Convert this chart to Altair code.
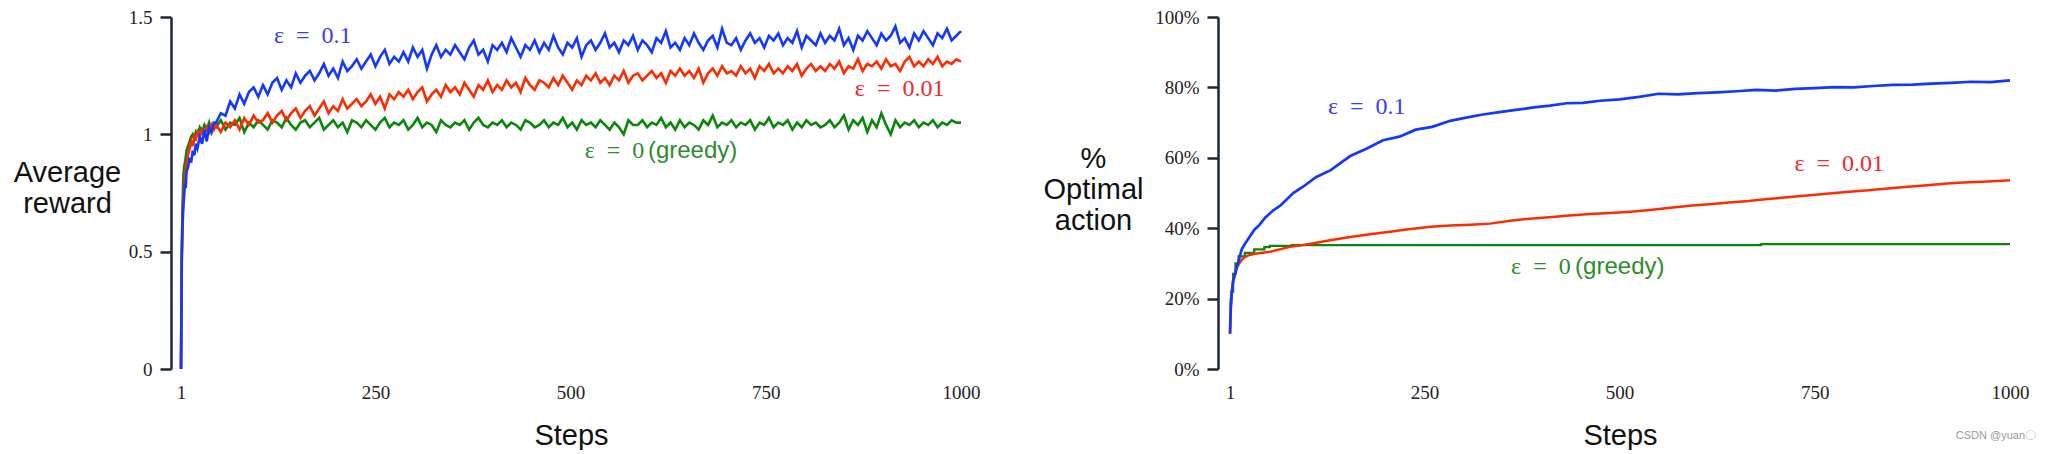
import altair as alt
import pandas as pd

SERIF = "Liberation Serif"
SANS = "Liberation Sans"
BLUE = "#1437ff"
RED = "#ff2a00"
GREEN = "#0a870a"
AXIS = "#1e2838"

# ---------------- Left panel: average reward ----------------
reward_steps = [1, 2, 3, 4, 5, 6, 7, 8, 10, 12, 14, 16, 18, 20, 22, 25, 28, 31, 34, 37, 40, 43] + list(range(46, 1001, 6))

reward_eps01 = [
    0.00, 0.46, 0.62, 0.69, 0.74, 0.79, 0.77, 0.84, 0.86, 0.90, 0.88, 0.93, 0.91, 0.96, 0.94, 0.99, 0.96, 1.02, 0.97, 1.03, 1.01, 1.05,
    1.05, 1.09, 1.08, 1.14, 1.11, 1.17, 1.13, 1.18, 1.20, 1.16,
    1.21, 1.17, 1.22, 1.24, 1.19, 1.23, 1.20, 1.26, 1.22, 1.25,
    1.27, 1.23, 1.26, 1.30, 1.25, 1.28, 1.24, 1.31, 1.27, 1.29,
    1.32, 1.28, 1.31, 1.34, 1.29, 1.33, 1.36, 1.30, 1.33, 1.31,
    1.35, 1.31, 1.37, 1.33, 1.36, 1.28, 1.34, 1.38, 1.33, 1.36,
    1.34, 1.38, 1.35, 1.32, 1.37, 1.40, 1.34, 1.36, 1.31, 1.38,
    1.36, 1.39, 1.35, 1.41, 1.37, 1.33, 1.38, 1.36, 1.40, 1.35,
    1.39, 1.36, 1.42, 1.37, 1.34, 1.39, 1.37, 1.41, 1.33, 1.38,
    1.40, 1.36, 1.39, 1.43, 1.37, 1.39, 1.35, 1.40, 1.38, 1.42,
    1.36, 1.40, 1.38, 1.35, 1.41, 1.39, 1.44, 1.37, 1.39, 1.36,
    1.41, 1.38, 1.43, 1.39, 1.36, 1.40, 1.42, 1.37, 1.45, 1.39,
    1.38, 1.41, 1.36, 1.40, 1.43, 1.39, 1.41, 1.37, 1.42, 1.40,
    1.43, 1.38, 1.41, 1.39, 1.44, 1.37, 1.42, 1.40, 1.38, 1.43,
    1.39, 1.42, 1.40, 1.45, 1.38, 1.41, 1.36, 1.42, 1.40, 1.44,
    1.41, 1.38, 1.43, 1.40, 1.42, 1.46, 1.39, 1.41, 1.37, 1.43,
    1.40, 1.44, 1.41, 1.38, 1.43, 1.41, 1.45, 1.40, 1.42, 1.44,
]

reward_eps001 = [
    0.00, 0.48, 0.66, 0.72, 0.78, 0.82, 0.85, 0.88, 0.91, 0.94, 0.97, 0.95, 0.99, 0.98, 1.01, 0.99, 1.02, 1.00, 1.03, 1.01, 1.04, 1.02,
    1.04, 1.01, 1.05, 1.03, 1.06, 1.02, 1.07, 1.04, 1.08, 1.05,
    1.06, 1.09, 1.05, 1.08, 1.10, 1.06, 1.09, 1.11, 1.07, 1.10,
    1.12, 1.08, 1.11, 1.14, 1.09, 1.12, 1.10, 1.15, 1.11, 1.13,
    1.15, 1.12, 1.14, 1.17, 1.13, 1.16, 1.11, 1.17, 1.15, 1.18,
    1.16, 1.19, 1.15, 1.18, 1.20, 1.14, 1.17, 1.19, 1.16, 1.21,
    1.18, 1.20, 1.17, 1.22, 1.19, 1.16, 1.21, 1.19, 1.23, 1.18,
    1.21, 1.19, 1.23, 1.20, 1.22, 1.18, 1.24, 1.21, 1.19, 1.23,
    1.22, 1.20, 1.24, 1.21, 1.25, 1.22, 1.19, 1.23, 1.21, 1.25,
    1.23, 1.26, 1.22, 1.24, 1.21, 1.25, 1.23, 1.27, 1.22, 1.25,
    1.26, 1.23, 1.25, 1.27, 1.24, 1.26, 1.22, 1.27, 1.25, 1.28,
    1.25, 1.27, 1.24, 1.28, 1.22, 1.26, 1.28, 1.25, 1.29, 1.26,
    1.27, 1.25, 1.29, 1.26, 1.28, 1.24, 1.29, 1.27, 1.30, 1.26,
    1.28, 1.26, 1.29, 1.27, 1.30, 1.25, 1.28, 1.30, 1.27, 1.29,
    1.27, 1.30, 1.28, 1.31, 1.26, 1.29, 1.28, 1.32, 1.27, 1.30,
    1.29, 1.31, 1.28, 1.32, 1.29, 1.30, 1.27, 1.31, 1.33, 1.29,
    1.31, 1.29, 1.32, 1.30, 1.33, 1.29, 1.31, 1.30, 1.32, 1.31,
]

reward_eps0 = [
    0.00, 0.50, 0.70, 0.82, 0.86, 0.88, 0.90, 0.93, 0.95, 0.97, 0.99, 1.00, 0.98, 1.01, 1.00, 1.03, 1.01, 1.04, 1.02, 1.05, 1.01, 1.04,
    1.03, 1.06, 1.02, 1.05, 1.04, 1.07, 1.01, 1.05, 1.03, 1.06,
    1.04, 1.02, 1.06, 1.05, 1.03, 1.07, 1.04, 1.02, 1.05, 1.06,
    1.03, 1.05, 1.07, 1.02, 1.04, 1.06, 1.03, 1.05, 1.01, 1.06,
    1.05, 1.03, 1.06, 1.04, 1.02, 1.05, 1.07, 1.03, 1.05, 1.04,
    1.06, 1.02, 1.04, 1.07, 1.03, 1.05, 1.04, 1.01, 1.06, 1.04,
    1.03, 1.05, 1.04, 1.06, 1.02, 1.05, 1.07, 1.04, 1.03, 1.05,
    1.04, 1.06, 1.03, 1.05, 1.04, 1.02, 1.06, 1.05, 1.03, 1.04,
    1.06, 1.03, 1.05, 1.04, 1.07, 1.03, 1.05, 1.02, 1.06, 1.04,
    1.05, 1.03, 1.06, 1.04, 1.02, 1.05, 1.03, 1.00, 1.06, 1.04,
    1.04, 1.06, 1.03, 1.05, 1.04, 1.07, 1.03, 1.05, 1.02, 1.06,
    1.03, 1.05, 1.04, 1.02, 1.06, 1.04, 1.08, 1.03, 1.05, 1.04,
    1.06, 1.03, 1.05, 1.04, 1.06, 1.02, 1.05, 1.04, 1.07, 1.03,
    1.05, 1.04, 1.06, 1.02, 1.05, 1.03, 1.06, 1.04, 1.05, 1.03,
    1.04, 1.06, 1.03, 1.05, 1.08, 1.02, 1.06, 1.04, 1.07, 1.01,
    1.06, 1.03, 1.09, 1.04, 1.00, 1.06, 1.03, 1.05, 1.04, 1.06,
    1.03, 1.05, 1.04, 1.06, 1.03, 1.05, 1.04, 1.06, 1.05, 1.05,
]

# ---------------- Right panel: % optimal action ----------------
opt_steps_eps01 = [1, 2, 3, 5, 7, 10, 13, 16, 20, 26, 32, 39, 46, 56, 66, 82, 96, 111, 130, 155, 175, 197, 218, 239,
                   260, 283, 305, 325, 346, 367, 390, 411, 432, 453, 475, 500, 525, 550, 575, 600, 625, 650, 675,
                   700, 725, 750, 775, 800, 825, 850, 875, 900, 925, 950, 975, 1000]
opt_eps01 = [10, 17.5, 21, 25, 26.5, 29, 31.5, 34, 35.5, 37.5, 39.5, 41, 43, 45, 46.5, 50, 52, 54.5, 56.5, 60.5, 62.5,
             65, 66, 68, 68.8, 70.5, 71.5, 72.3, 73, 73.6, 74.3, 74.8, 75.5, 75.6, 76.2, 76.6, 77.3, 78.2, 78.0, 78.4,
             78.6, 78.9, 79.3, 79.1, 79.6, 79.8, 80.1, 80.0, 80.4, 80.7, 80.8, 81.1, 81.3, 81.6, 81.5, 82.0]

opt_steps_eps001 = [1, 2, 3, 5, 7, 10, 13, 16, 20, 26, 35, 52, 78, 103, 129, 155, 180, 206, 232, 258, 283, 309, 334,
                    360, 385, 410, 436, 462, 488, 514, 539, 565, 590, 615, 640, 665, 690, 715, 740, 765, 790, 815,
                    840, 865, 890, 915, 940, 965, 990, 1000]
opt_eps001 = [10, 17, 21, 25, 27, 29, 30, 31, 31.8, 32.4, 32.8, 33.3, 34.7, 35.5, 36.6, 37.5, 38.3, 39.0, 39.8, 40.4,
              40.8, 41.0, 41.3, 42.1, 42.7, 43.1, 43.6, 44.0, 44.3, 44.7, 45.2, 45.8, 46.4, 46.8, 47.3, 47.7, 48.3,
              48.8, 49.3, 49.8, 50.3, 50.7, 51.2, 51.7, 52.1, 52.6, 53.0, 53.2, 53.5, 53.6]

opt_steps_eps0 = [1, 2, 3, 5, 8, 12, 20, 32, 45, 52, 80, 680, 681, 1000]
opt_eps0 = [17, 20, 22, 27, 30, 32, 33, 34, 34.6, 35, 35.2, 35.2, 35.5, 35.5]

# ---------------- Annotations ----------------
left_labels = ["ε\u2002=\u20020.1", "ε\u2002=\u20020.01", "ε\u2002=\u20020"]
left_label_steps = [120, 864, 518]
left_label_values = [1.419, 1.192, 0.927]
left_label_colors = ["#3b3bf5", "#f0282d", "#2e8b2e"]
left_greedy_step, left_greedy_value = 599, 0.927

right_labels = ["ε\u2002=\u20020.1", "ε\u2002=\u20020.01", "ε\u2002=\u20020"]
right_label_steps = [126.5, 724, 361]
right_label_values = [74.4, 58.2, 29.0]
right_label_colors = ["#3b3bf5", "#f0282d", "#2e8b2e"]
right_greedy_step, right_greedy_value = 443, 29.0

x_ticks = [1, 250, 500, 750, 1000]

watermark_text = ["CSDN @yuan〇"]
watermark_step = [982]
watermark_value = [-19]


def x_enc():
    return alt.X(
        "step:Q",
        scale=alt.Scale(domain=[1, 1000], nice=False, zero=False),
        axis=alt.Axis(
            values=x_ticks, labelExpr="datum.value + ''", title="Steps", domain=False, ticks=False, grid=False,
            labelFont=SERIF, labelFontSize=19, labelColor="#222", labelBaseline="middle",
            labelPadding=23, labelFlush=False,
            titleFont=SANS, titleFontSize=29, titleFontWeight="normal", titleColor="#111",
            titleBaseline="alphabetic", titleY=75,
        ),
    )


def y_enc(domain, values, label_expr, title, title_x, title_y, offset):
    return alt.Y(
        "value:Q",
        scale=alt.Scale(domain=domain, nice=False, zero=False),
        axis=alt.Axis(
            values=values, labelExpr=label_expr, offset=offset, grid=False,
            domainColor=AXIS, domainWidth=2.5, tickColor=AXIS, tickWidth=2.5, tickSize=11,
            labelFont=SERIF, labelFontSize=19, labelColor="#222", labelBaseline="middle",
            labelPadding=8,
            title=title, titleAngle=0, titleFont=SANS, titleFontSize=29, titleFontWeight="normal",
            titleColor="#111", titleAlign="center", titleBaseline="alphabetic",
            titleX=title_x, titleY=title_y, titleLineHeight=31,
        ),
    )


def panel(series, labels, label_steps, label_values, label_colors, greedy_step, greedy_value,
          ydomain, yvalues, label_expr, title, title_x, title_y, offset, extra=False):
    X = x_enc()
    Y = y_enc(ydomain, yvalues, label_expr, title, title_x, title_y, offset)
    layers = []
    for steps, vals, color, interp, sw in series:
        df = pd.DataFrame({"step": steps, "value": vals})
        layers.append(
            alt.Chart(df).mark_line(color=color, strokeWidth=sw, interpolate=interp).encode(x=X, y=Y)
        )
    ann = pd.DataFrame({"step": label_steps, "value": label_values, "text": labels, "color": label_colors})
    layers.append(
        alt.Chart(ann).mark_text(font=SERIF, fontSize=24, align="left", baseline="middle").encode(
            x=X, y=Y, text="text:N", color=alt.Color("color:N", scale=None)
        )
    )
    g = pd.DataFrame({"step": [greedy_step], "value": [greedy_value], "text": ["(greedy)"]})
    layers.append(
        alt.Chart(g).mark_text(font=SANS, fontSize=24, align="left", baseline="middle", color="#2e8b2e").encode(
            x=X, y=Y, text="text:N"
        )
    )
    if extra:
        w = pd.DataFrame({"step": watermark_step, "value": watermark_value, "text": watermark_text})
        layers.append(
            alt.Chart(w).mark_text(font=SANS, fontSize=11, color="#999999", align="center", baseline="middle").encode(
                x=X, y=Y, text="text:N"
            )
        )
    return alt.layer(*layers).properties(width=780, height=352)


left = panel(
    [(reward_steps, reward_eps0, GREEN, "linear", 2.6),
     (reward_steps, reward_eps001, RED, "linear", 2.6),
     (reward_steps, reward_eps01, BLUE, "linear", 2.6)],
    left_labels, left_label_steps, left_label_values, left_label_colors, left_greedy_step, left_greedy_value,
    [0, 1.5], [0, 0.5, 1, 1.5], "datum.value + ''", ["Average", "reward"], -104, 164.5, 10,
)

right = panel(
    [(opt_steps_eps0, opt_eps0, GREEN, "step-after", 2.3),
     (opt_steps_eps001, opt_eps001, RED, "linear", 2.5),
     (opt_steps_eps01, opt_eps01, BLUE, "linear", 2.7)],
    right_labels, right_label_steps, right_label_values, right_label_colors, right_greedy_step, right_greedy_value,
    [0, 100], [0, 20, 40, 60, 80, 100], "datum.value + '%'", ["%", "Optimal", "action"], -125, 150.5, 12,
    extra=True,
)

chart = alt.hconcat(left, right, spacing=63).properties(
    padding={"left": 5, "top": 0, "right": 0, "bottom": 0}
).configure_view(stroke=None)

chart.save("out.html", embed_options={"renderer": "svg", "actions": False})
